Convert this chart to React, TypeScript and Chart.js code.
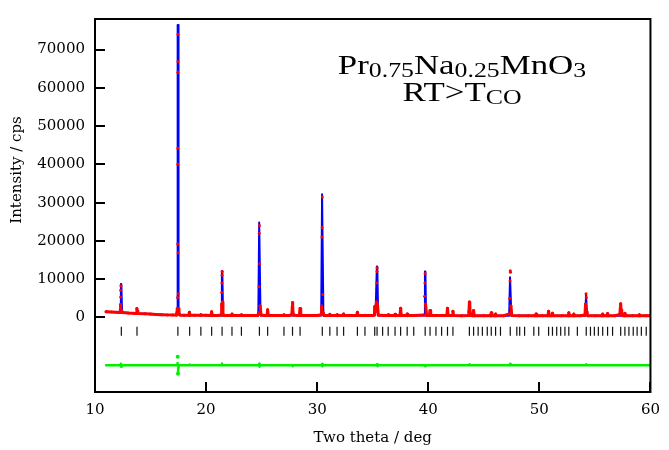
import React, { useEffect, useRef } from 'react';
import { Chart, registerables } from 'chart.js';

Chart.register(...registerables);

// ---- axis ranges & ticks ----
const X_MIN = 10;
const X_MAX = 60;
const Y_MIN = -19500;
const Y_MAX = 78000;
const xTickValues = [10, 20, 30, 40, 50, 60];
const yTickValues = [0, 10000, 20000, 30000, 40000, 50000, 60000, 70000];
const xTitle = 'Two theta / deg';
const yTitle = 'Intensity / cps';
const braggLevel = -3600;

// ---- calculated profile (two theta, counts) ----
const calcProfile: [number, number][] = [
  [11.0, 1450], [11.5, 1380], [12.0, 1300], [12.26, 1270], [12.33, 8700], [12.37, 8700], [12.44, 1260],
  [13.0, 1150], [13.7, 1030], [13.78, 2300], [13.86, 1020],
  [14.5, 930], [15.5, 780], [16.5, 660], [17.32, 600], [17.4, 2200], [17.44, 76400], [17.48, 76400], [17.52, 2200], [17.62, 590],
  [18.0, 560], [18.44, 555], [18.5, 1400], [18.56, 555],
  [19.47, 540], [19.53, 750], [19.59, 540],
  [20.44, 520], [20.5, 1500], [20.56, 520],
  [21.35, 515], [21.42, 12100], [21.46, 12100], [21.53, 515],
  [22.27, 500], [22.33, 900], [22.39, 500],
  [23.12, 500], [23.18, 700], [23.24, 500],
  [24.7, 500], [24.78, 24800], [24.82, 24800], [24.9, 500],
  [25.48, 500], [25.54, 2000], [25.6, 500],
  [26.95, 490], [27.01, 700], [27.07, 490],
  [27.72, 490], [27.78, 3700], [27.84, 490],
  [28.4, 490], [28.46, 2300], [28.52, 490],
  [30.36, 480], [30.44, 32200], [30.48, 32200], [30.56, 480],
  [31.08, 480], [31.14, 800], [31.2, 480],
  [31.73, 480], [31.79, 700], [31.85, 480],
  [32.32, 480], [32.38, 900], [32.44, 480],
  [33.56, 480], [33.62, 1300], [33.68, 480],
  [35.1, 480], [35.18, 3000], [35.26, 1500], [35.37, 13300], [35.41, 13300], [35.49, 480],
  [36.34, 480], [36.4, 700], [36.46, 480],
  [36.95, 480], [37.01, 800], [37.07, 480],
  [37.45, 480], [37.51, 2400], [37.57, 480],
  [38.04, 470], [38.1, 900], [38.16, 470],
  [39.64, 470], [39.7, 12000], [39.74, 12000], [39.8, 470],
  [40.1, 470], [40.16, 1800], [40.22, 470],
  [41.67, 470], [41.73, 2400], [41.79, 470],
  [42.16, 470], [42.22, 1600], [42.28, 470],
  [43.64, 460], [43.7, 3800], [43.76, 460],
  [44.02, 460], [44.08, 1800], [44.14, 460],
  [45.61, 460], [45.67, 1200], [45.73, 460],
  [46.0, 460], [46.06, 900], [46.12, 460],
  [47.28, 460], [47.36, 10500], [47.4, 10500], [47.48, 460],
  [49.64, 460], [49.7, 900], [49.76, 460],
  [50.77, 460], [50.83, 1600], [50.89, 460],
  [51.12, 460], [51.18, 1100], [51.24, 460],
  [52.59, 455], [52.65, 1200], [52.71, 455],
  [53.04, 455], [53.1, 900], [53.16, 455],
  [54.14, 455], [54.2, 6000], [54.24, 6000], [54.3, 455],
  [55.64, 450], [55.7, 900], [55.76, 450],
  [56.08, 450], [56.14, 1000], [56.2, 450],
  [57.26, 450], [57.32, 3500], [57.38, 450],
  [57.64, 450], [57.7, 1100], [57.76, 450],
  [58.94, 450], [59.0, 700], [59.06, 450],
  [60.0, 450],
];

// ---- observed data (two theta, counts) ----
const obsProfile: [number, number][] = [
  [11.0, 1450], [11.5, 1400], [12.0, 1320], [12.25, 1300], [12.29, 2200], [12.3, 3400], [12.31, 5300], [12.32, 7100], [12.34, 8300], [12.39, 1900], [12.46, 1280],
  [13.0, 1150], [13.5, 1070], [13.72, 1050], [13.77, 2300], [13.8, 1700], [13.86, 1040],
  [14.5, 930], [15.0, 860], [15.5, 780], [16.0, 720], [16.5, 660], [17.0, 620], [17.3, 650], [17.38, 1200], [17.41, 2350], [17.43, 5200], [17.44, 19200], [17.45, 40000], [17.455, 44200], [17.46, 64100], [17.465, 66900], [17.47, 74000], [17.48, 16900], [17.49, 6200], [17.51, 2300], [17.56, 900], [17.65, 600],
  [18.0, 570], [18.44, 560], [18.5, 1350], [18.56, 560],
  [19.0, 550], [19.47, 545], [19.53, 700], [19.59, 540],
  [20.0, 530], [20.44, 520], [20.5, 1500], [20.56, 520],
  [21.0, 520], [21.36, 600], [21.4, 3500], [21.41, 6500], [21.42, 9000], [21.44, 11000], [21.45, 12000], [21.48, 4000], [21.52, 900], [21.6, 520],
  [22.0, 500], [22.27, 500], [22.33, 900], [22.39, 500],
  [22.8, 500], [23.12, 500], [23.18, 700], [23.24, 500],
  [24.0, 500], [24.65, 520], [24.72, 1200], [24.76, 8000], [24.78, 22000], [24.8, 24000], [24.83, 14000], [24.86, 3000], [24.95, 600],
  [25.3, 500], [25.48, 520], [25.54, 2000], [25.6, 520],
  [26.3, 490], [26.95, 490], [27.01, 700], [27.07, 490],
  [27.5, 490], [27.72, 800], [27.76, 2800], [27.78, 3900], [27.81, 2500], [27.86, 600],
  [28.2, 490], [28.4, 500], [28.46, 2350], [28.52, 500],
  [29.0, 490], [29.6, 480], [30.0, 480], [30.35, 700], [30.4, 3000], [30.43, 21000], [30.45, 23500], [30.46, 31500], [30.5, 6000], [30.54, 1200], [30.62, 500],
  [30.9, 480], [31.08, 480], [31.14, 800], [31.2, 480],
  [31.73, 480], [31.79, 700], [31.85, 480],
  [32.32, 480], [32.38, 900], [32.44, 480],
  [33.0, 480], [33.56, 480], [33.62, 1350], [33.68, 480],
  [34.3, 480], [35.0, 500], [35.12, 600], [35.18, 2800], [35.24, 1500], [35.34, 4000], [35.37, 9000], [35.39, 12000], [35.4, 13000], [35.43, 3500], [35.5, 600],
  [36.0, 480], [36.34, 480], [36.4, 700], [36.46, 480],
  [36.95, 480], [37.01, 800], [37.07, 480],
  [37.45, 480], [37.51, 2400], [37.57, 480],
  [38.04, 470], [38.1, 900], [38.16, 470],
  [38.8, 470], [39.6, 600], [39.67, 5500], [39.7, 9000], [39.72, 11500], [39.76, 3500], [39.85, 500],
  [40.1, 470], [40.16, 1800], [40.22, 470],
  [41.0, 470], [41.67, 470], [41.73, 2400], [41.79, 470],
  [42.16, 470], [42.22, 1600], [42.28, 470],
  [43.0, 460], [43.62, 500], [43.66, 1500], [43.7, 4000], [43.74, 2500], [43.8, 500],
  [44.02, 460], [44.08, 1800], [44.14, 460],
  [45.0, 460], [45.61, 460], [45.67, 1200], [45.73, 460],
  [46.0, 460], [46.06, 900], [46.12, 460],
  [46.8, 460], [47.28, 900], [47.33, 5000], [47.36, 9500], [47.38, 12200], [47.4, 11800], [47.44, 3000], [47.52, 500],
  [48.2, 460], [49.0, 460], [49.64, 460], [49.7, 900], [49.76, 460],
  [50.3, 460], [50.77, 460], [50.83, 1600], [50.89, 460],
  [51.12, 460], [51.18, 1100], [51.24, 460],
  [52.0, 455], [52.59, 455], [52.65, 1200], [52.71, 455],
  [53.04, 455], [53.1, 900], [53.16, 455],
  [53.7, 455], [54.1, 600], [54.16, 3500], [54.2, 6200], [54.23, 5200], [54.28, 1500], [54.36, 455],
  [55.0, 450], [55.64, 450], [55.7, 900], [55.76, 450],
  [56.08, 450], [56.14, 1000], [56.2, 450],
  [56.8, 450], [57.24, 800], [57.29, 2500], [57.32, 3600], [57.35, 2000], [57.42, 500],
  [57.64, 450], [57.7, 1100], [57.76, 450],
  [58.4, 450], [58.94, 450], [59.0, 700], [59.06, 450],
  [59.6, 450], [60.0, 450],
];

// ---- difference curve (offset) ----
const diffProfile: [number, number][] = [
  [11.0, -12500], [12.3, -12500], [12.33, -12100], [12.36, -12900], [12.4, -12500],
  [17.4, -12500], [17.43, -11900], [17.445, -10300], [17.46, -12900], [17.47, -14700], [17.49, -13200], [17.52, -12500],
  [18.5, -12500], [18.52, -12300], [18.55, -12500],
  [21.4, -12500], [21.43, -12050], [21.47, -12500],
  [24.76, -12500], [24.78, -12100], [24.8, -12900], [24.84, -12500],
  [27.76, -12500], [27.78, -12750], [27.82, -12500],
  [30.43, -12500], [30.45, -12200], [30.47, -12800], [30.5, -12500],
  [35.37, -12500], [35.39, -12250], [35.42, -12750], [35.45, -12500],
  [39.7, -12500], [39.72, -12800], [39.76, -12500],
  [43.68, -12500], [43.7, -12250], [43.74, -12500],
  [47.34, -12500], [47.37, -12150], [47.4, -12300], [47.44, -12500],
  [54.18, -12500], [54.2, -12300], [54.24, -12500],
  [60.0, -12500],
];

// ---- Bragg reflection positions ----
const braggPositions = [
  12.37, 13.78, 17.46, 18.52, 19.53, 20.5, 21.44, 22.33, 23.18, 24.8, 25.54, 27.01, 27.78, 28.46,
  30.46, 31.14, 31.79, 32.38, 33.62, 34.3, 35.18, 35.39, 35.89, 36.39, 37.01, 37.51, 38.1, 38.69,
  39.72, 40.16, 40.69, 41.2, 41.73, 42.22, 43.7, 44.08, 44.49, 44.87, 45.31, 45.67, 46.06, 46.5,
  47.38, 47.97, 48.23, 48.67, 49.5, 49.94, 50.83, 51.18, 51.56, 51.92, 52.3, 52.65, 53.42, 54.22,
  54.6, 54.95, 55.31, 55.7, 56.14, 56.59, 57.32, 57.7, 58.06, 58.45, 58.8, 59.18, 59.62,
];

// ---- annotation ----
const labelLine1: [string, boolean][] = [['Pr', false], ['0.75', true], ['Na', false], ['0.25', true], ['MnO', false], ['3', true]];
const labelLine2: [string, boolean][] = [['RT>T', false], ['CO', true]];

const toXY = (arr: [number, number][]) => arr.map(([x, y]) => ({ x, y }));

const drawRuns = (ctx: CanvasRenderingContext2D, runs: [string, boolean][], cx: number, baseline: number) => {
  const mainFont = '27px "Liberation Serif", "Times New Roman", serif';
  const subFont = '20px "Liberation Serif", "Times New Roman", serif';
  const sx = 1.29;
  let total = 0;
  for (const [t, sub] of runs) {
    ctx.font = sub ? subFont : mainFont;
    total += ctx.measureText(t).width;
  }
  ctx.save();
  ctx.translate(cx - (total * sx) / 2, baseline);
  ctx.scale(sx, 1);
  ctx.fillStyle = '#000';
  ctx.textAlign = 'left';
  ctx.textBaseline = 'alphabetic';
  let x = 0;
  for (const [t, sub] of runs) {
    ctx.font = sub ? subFont : mainFont;
    ctx.fillText(t, x, sub ? 3 : 0);
    x += ctx.measureText(t).width;
  }
  ctx.restore();
};

const framePlugin = {
  id: 'frameAndTicks',
  afterDatasetsDraw(chart: any) {
    const { ctx, chartArea: a, scales } = chart;
    const xs = scales.x;
    const ys = scales.y;
    ctx.save();
    ctx.strokeStyle = '#000';
    ctx.lineWidth = 2;
    ctx.strokeRect(a.left, a.top, a.right - a.left, a.bottom - a.top);
    ctx.beginPath();
    for (const v of yTickValues) {
      const py = Math.round(ys.getPixelForValue(v));
      ctx.moveTo(a.left, py);
      ctx.lineTo(a.left + 10, py);
    }
    for (const v of xTickValues) {
      const px = Math.round(xs.getPixelForValue(v));
      ctx.moveTo(px, a.bottom);
      ctx.lineTo(px, a.bottom - 10);
    }
    ctx.stroke();
    // y axis title
    ctx.fillStyle = '#000';
    ctx.font = '15px "DejaVu Serif", serif';
    ctx.textAlign = 'center';
    ctx.textBaseline = 'middle';
    ctx.translate(17, 170);
    ctx.rotate(-Math.PI / 2);
    ctx.fillText(yTitle, 0, 0);
    ctx.restore();

    drawRuns(ctx, labelLine1, 462, 73.5);
    drawRuns(ctx, labelLine2, 462, 101);
  },
};

const TRANSPARENT = 'rgba(0,0,0,0)';

export default function App() {
  const canvasRef = useRef<HTMLCanvasElement | null>(null);

  useEffect(() => {
    if (!canvasRef.current) return;
    const chart = new Chart(canvasRef.current, {
      type: 'scatter',
      data: {
        datasets: [
          {
            label: 'Observed',
            data: toXY(obsProfile),
            showLine: true,
            borderColor: 'rgb(255,0,0)',
            backgroundColor: 'rgb(255,0,0)',
            borderWidth: 3,
            borderJoinStyle: 'round',
            borderCapStyle: 'round',
            pointRadius: 1.5,
            pointBorderWidth: 0,
            pointBackgroundColor: 'rgb(255,0,0)',
            order: 0,
            segment: {
              borderColor: (c: any) =>
                Math.max(c.p0.parsed.y, c.p1.parsed.y) > 4500 ? TRANSPARENT : 'rgb(255,0,0)',
            },
          } as any,
          {
            label: 'Calculated',
            data: toXY(calcProfile),
            showLine: true,
            borderColor: 'rgb(0,0,255)',
            borderWidth: 2,
            borderJoinStyle: 'round',
            pointRadius: 0,
            order: 1,
          } as any,
          {
            label: 'Difference',
            data: toXY(diffProfile),
            showLine: true,
            borderColor: 'rgb(0,240,0)',
            backgroundColor: 'rgb(0,240,0)',
            borderWidth: 2.5,
            borderJoinStyle: 'round',
            borderCapStyle: 'round',
            pointRadius: (c: any) => {
              const v = c.raw ? c.raw.y : -12500;
              return Math.abs(v + 12500) > 1500 ? 2 : 0;
            },
            pointBorderWidth: 0,
            order: 2,
            segment: {
              borderColor: (c: any) =>
                Math.abs(c.p1.parsed.y - c.p0.parsed.y) > 1500 ? TRANSPARENT : 'rgb(0,240,0)',
            },
          } as any,
          {
            label: 'Bragg positions',
            data: braggPositions.map((x) => ({ x, y: braggLevel })),
            showLine: false,
            pointStyle: 'line',
            rotation: 90,
            pointRadius: 4.5,
            borderColor: '#111',
            borderWidth: 1.2,
            order: 3,
          } as any,
        ],
      },
      options: {
        responsive: false,
        animation: false,
        layout: { padding: { top: 6, right: 9, left: 0, bottom: 0 } },
        plugins: {
          legend: { display: false },
          tooltip: { enabled: false },
        },
        scales: {
          x: {
            type: 'linear',
            min: X_MIN,
            max: X_MAX,
            afterFit: (s: any) => {
              s.height = 58;
            },
            afterBuildTicks: (s: any) => {
              s.ticks = xTickValues.map((value) => ({ value }));
            },
            grid: { display: false, drawTicks: false },
            border: { display: false },
            ticks: {
              padding: 9,
              color: '#000',
              font: { family: '"DejaVu Serif", serif', size: 15 },
              maxRotation: 0,
              autoSkip: false,
              callback: (v: any) => String(v),
            },
            title: {
              display: true,
              text: xTitle,
              color: '#000',
              font: { family: '"DejaVu Serif", serif', size: 15 },
              padding: { top: 0, bottom: 3 },
            },
          },
          y: {
            type: 'linear',
            min: Y_MIN,
            max: Y_MAX,
            afterFit: (s: any) => {
              s.width = 95;
            },
            afterBuildTicks: (s: any) => {
              s.ticks = yTickValues.map((value) => ({ value }));
            },
            grid: { display: false, drawTicks: false },
            border: { display: false },
            ticks: {
              padding: 10,
              color: '#000',
              autoSkip: false,
              font: { family: '"DejaVu Serif", serif', size: 15 },
              callback: (v: any) => String(v),
            },
          },
        },
      } as any,
      plugins: [framePlugin],
    });
    return () => chart.destroy();
  }, []);

  return (
    <div style={{ position: 'fixed', left: 0, top: 0, width: 669, height: 450, background: '#fff' }}>
      <canvas ref={canvasRef} width={669} height={450} style={{ display: 'block' }} />
    </div>
  );
}
